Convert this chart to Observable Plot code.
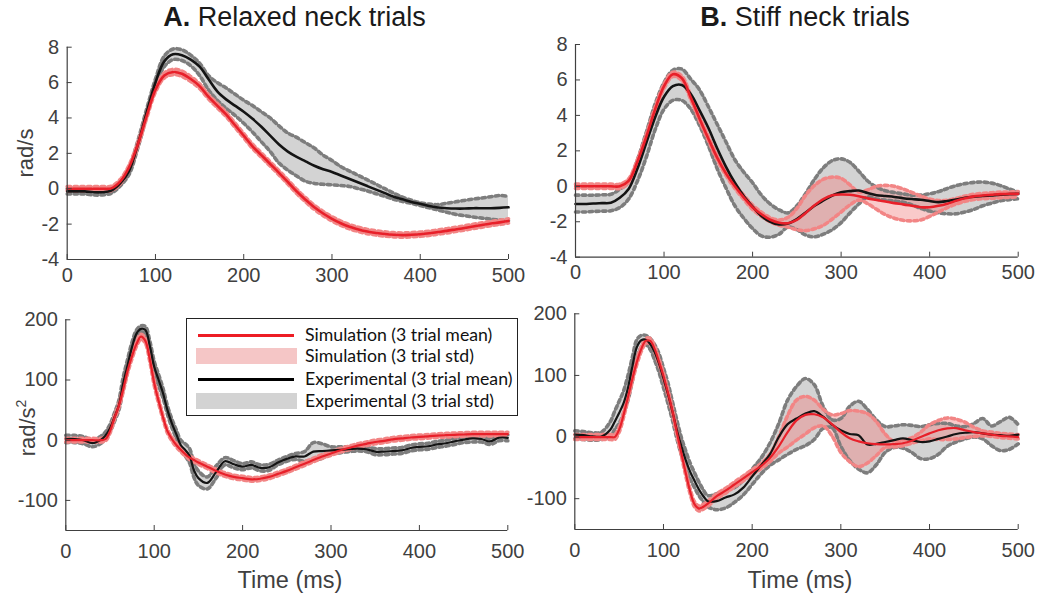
<!DOCTYPE html>
<html><head><meta charset="utf-8">
<script src="https://cdn.jsdelivr.net/npm/d3@7"></script>
<script src="https://cdn.jsdelivr.net/npm/@observablehq/plot@0.6"></script>
<style>
body{margin:0;background:#fff;}
#root{position:relative;width:1037px;height:599px;overflow:hidden;font-family:"Liberation Sans",Arial,sans-serif;color:#404040;background:#fff;}
.pnl{position:absolute;}
.pnl text{font-size:20px;}
.title{position:absolute;font-size:27px;color:#1a1a1a;white-space:nowrap;transform:translateX(-50%);line-height:1;}
.ylab{position:absolute;font-size:22px;color:#404040;white-space:nowrap;transform:translate(-50%,-50%) rotate(-90deg);line-height:1;}
.xlab{position:absolute;font-size:23.5px;color:#404040;white-space:nowrap;transform:translateX(-50%);line-height:1;}
#legend{position:absolute;left:186px;top:318px;width:330px;height:96px;border:1px solid #222;background:#fff;font-family:Lato,"Open Sans",sans-serif;font-size:17.7px;color:#111;}
#legend .row{position:absolute;left:0;height:22px;width:100%;}
#legend .sw{position:absolute;left:9px;width:101px;}
#legend .tx{position:absolute;left:118px;white-space:nowrap;line-height:22px;top:0;}
</style></head><body><div id="root"></div>
<script>
// ---------- time axes (ms) ----------
const tTop = [0,10,20,30,40,50,60,70,80,90,100,110,120,130,140,150,160,170,180,190,200,210,220,230,240,250,260,270,280,290,300,310,320,330,340,350,360,370,380,390,400,410,420,430,440,450,460,470,480,490,500];
const tBot = [0,10,20,30,40,45,50,55,60,65,70,75,80,85,90,95,100,105,110,115,120,125,130,135,140,145,150,160,170,180,190,200,210,220,230,240,250,260,270,280,290,300,310,320,330,340,350,360,370,380,390,400,410,420,430,440,450,460,470,480,490,500];

const xTicks = [0,100,200,300,400,500];
const yTicksVel = [-4,-2,0,2,4,6,8];
const yTicksAcc = [-100,0,100,200];

// ---------- A: relaxed neck, velocity (rad/s) ----------
const simA = [0,0,0,0,0,0.02,0.4,1.2,2.5,4.1,5.6,6.4,6.6,6.5,6.2,5.8,5.2,4.7,4.2,3.6,3.0,2.4,1.9,1.4,0.9,0.38,-0.15,-0.62,-1.05,-1.4,-1.7,-1.95,-2.15,-2.3,-2.42,-2.5,-2.56,-2.6,-2.62,-2.6,-2.57,-2.52,-2.45,-2.38,-2.3,-2.22,-2.13,-2.05,-1.97,-1.9,-1.82];
const simA_sd = [0.12,0.12,0.12,0.12,0.12,0.12,0.12,0.12,0.12,0.12,0.13,0.14,0.15,0.15,0.14,0.13,0.12,0.12,0.12,0.12,0.12,0.12,0.12,0.12,0.12,0.12,0.12,0.12,0.12,0.12,0.12,0.12,0.12,0.12,0.12,0.12,0.12,0.12,0.12,0.12,0.12,0.12,0.12,0.12,0.12,0.12,0.12,0.12,0.12,0.12,0.12];
const expA = [-0.15,-0.15,-0.15,-0.2,-0.2,-0.1,0.3,1.0,2.5,4.3,6.0,7.2,7.6,7.55,7.3,6.9,6.2,5.5,5.05,4.7,4.35,3.95,3.5,3.0,2.5,2.1,1.8,1.55,1.3,1.1,0.95,0.75,0.55,0.35,0.15,-0.05,-0.25,-0.45,-0.6,-0.75,-0.85,-0.98,-1.06,-1.1,-1.12,-1.12,-1.1,-1.1,-1.1,-1.08,-1.05];
const expA_lo = [-0.3,-0.3,-0.3,-0.35,-0.35,-0.25,0.15,0.8,2.3,4.1,5.8,6.9,7.3,7.25,6.95,6.4,5.6,5.0,4.55,4.15,3.7,3.2,2.65,2.1,1.45,1.05,0.72,0.42,0.3,0.25,0.22,0.18,0.13,0.0,-0.12,-0.28,-0.43,-0.6,-0.72,-0.83,-0.95,-1.08,-1.2,-1.33,-1.45,-1.52,-1.6,-1.66,-1.72,-1.77,-1.81];
const expA_hi = [0.0,0.0,0.0,-0.05,-0.05,0.05,0.45,1.2,2.7,4.5,6.2,7.5,7.9,7.85,7.55,7.1,6.4,6.0,5.7,5.35,5.0,4.7,4.35,4.0,3.55,3.15,2.9,2.6,2.3,1.9,1.6,1.25,1.0,0.75,0.5,0.25,0.0,-0.25,-0.48,-0.65,-0.8,-0.87,-0.9,-0.82,-0.74,-0.66,-0.58,-0.52,-0.45,-0.38,-0.43];

// ---------- B: stiff neck, velocity (rad/s) ----------
const simB = [0,0,0,0,0,0,0.3,1.4,2.8,4.35,5.65,6.32,6.1,5.03,3.83,2.7,1.62,0.72,0.0,-0.62,-1.18,-1.58,-1.89,-2.06,-2.08,-1.9,-1.5,-1.07,-0.72,-0.51,-0.46,-0.48,-0.56,-0.68,-0.77,-0.86,-0.95,-1.02,-1.1,-1.18,-1.18,-1.1,-0.98,-0.82,-0.68,-0.57,-0.52,-0.48,-0.44,-0.43,-0.43];
const simB_lo = [-0.12,-0.12,-0.12,-0.12,-0.12,-0.12,0.18,1.28,2.68,4.23,5.53,6.2,5.98,4.91,3.71,2.58,1.5,0.6,-0.12,-0.74,-1.3,-1.7,-2.01,-2.2,-2.3,-2.45,-2.5,-2.4,-2.2,-1.85,-1.45,-1.05,-0.78,-0.98,-1.3,-1.6,-1.8,-1.92,-1.95,-1.9,-1.7,-1.45,-1.2,-1.0,-0.85,-0.75,-0.7,-0.68,-0.65,-0.62,-0.6];
const simB_hi = [0.12,0.12,0.12,0.12,0.12,0.12,0.42,1.52,2.92,4.47,5.77,6.44,6.22,5.15,3.95,2.82,1.74,0.84,0.12,-0.5,-1.06,-1.46,-1.77,-1.9,-1.75,-1.25,-0.5,0.05,0.4,0.52,0.45,0.08,-0.32,-0.2,0.0,0.05,0.0,-0.15,-0.35,-0.55,-0.72,-0.8,-0.78,-0.68,-0.55,-0.45,-0.4,-0.36,-0.33,-0.32,-0.3];
const expB = [-1.0,-1.0,-0.97,-0.95,-0.93,-0.65,-0.15,1.0,2.45,3.9,5.05,5.65,5.72,5.22,4.3,3.3,2.15,1.1,0.2,-0.55,-1.15,-1.68,-2.0,-2.15,-2.1,-1.85,-1.48,-1.1,-0.8,-0.52,-0.33,-0.27,-0.24,-0.38,-0.5,-0.55,-0.6,-0.67,-0.72,-0.76,-0.83,-0.89,-0.83,-0.75,-0.65,-0.59,-0.55,-0.51,-0.47,-0.44,-0.43];
const expB_lo = [-1.45,-1.45,-1.42,-1.4,-1.38,-1.2,-0.72,0.3,1.65,3.2,4.35,4.85,4.85,4.37,3.45,2.3,1.0,-0.1,-1.1,-1.8,-2.38,-2.8,-2.87,-2.7,-2.3,-2.45,-2.75,-2.85,-2.7,-2.45,-2.05,-1.5,-1.0,-0.6,-0.72,-0.78,-0.83,-0.9,-1.05,-1.25,-1.4,-1.5,-1.55,-1.55,-1.45,-1.3,-1.1,-0.95,-0.82,-0.75,-0.7];
const expB_hi = [-0.5,-0.5,-0.5,-0.48,-0.45,-0.16,0.25,1.5,3.05,4.65,5.85,6.55,6.62,6.06,5.45,4.5,3.5,2.5,1.5,0.8,0.2,-0.5,-1.0,-1.33,-1.5,-1.1,-0.4,0.4,1.05,1.45,1.55,1.35,0.85,0.3,-0.05,-0.25,-0.35,-0.43,-0.5,-0.5,-0.42,-0.3,-0.12,0.04,0.15,0.22,0.24,0.18,0.04,-0.15,-0.33];

// ---------- C: relaxed neck, acceleration (rad/s^2) ----------
const simC = [0,0,0,0,0,2,15,37,57,85,116,140,160,172,165,135,95,65,38,15,2,-8,-16,-23,-29,-33,-37,-44,-51,-57,-61,-63,-65,-64,-61,-56,-51,-45,-39,-33,-27,-22,-17,-13,-9,-6,-3,-1,1.5,3,4.5,5.5,6.5,7.5,8.3,9,9.5,10,10,10,10,10];
const simC_sd = [3,3,3,3,3,3,3,3,3,4,4,4,4,4,4,4,4,4,3,3,3,3,3,3,3,3,3,3,3,3,3,3,3,3,3,3,3,3,3,3,3,3,3,3,3,3,3,3,3,3,3,3,3,3,3,3,3,3,3,3,3,3];
const expC = [2,2,0,-5,1,8,20,38,58,95,125,155,177,185,183,157,122,100,78,50,28,10,-8,-16,-26,-50,-63,-71,-53,-35,-40,-44,-41,-46,-45,-37,-31,-27,-27,-19,-18,-17,-16,-15,-14,-15,-19,-19,-18,-17,-13,-11,-10,-7,-5,-2,1,3,2,-2,4,4];
const expC_sd = [6,6,6,6,6,6,6,7,8,10,10,8,6,5,6,8,9,9,8,7,7,7,8,10,12,12,12,10,10,6,6,5,5,5,5,4,4,5,8,15,12,6,5,4,4,4,5,5,5,5,5,5,5,5,5,5,5,6,5,5,5,5];

// ---------- D: stiff neck, acceleration (rad/s^2) ----------
const simD = [0,0,0,0,0,0,12,36,65,95,122,143,156,156,143,122,99,72,43,8,-25,-58,-88,-109,-116,-113,-108,-96,-87,-77,-67,-57,-47,-34,-15,8,27,36,37,32,21,8,-2,-7,-10,-11.5,-12,-11.5,-10,-6,0,6,11,14,14.5,11,8,6,4,2,1,0];
const simD_lo = [-4,-4,-4,-4,-4,-4,8,32,61,91,118,139,152,152,139,118,95,68,39,4,-29,-62,-92,-113,-120,-117,-112,-100,-91,-81,-71,-61,-51,-40,-26,-16,-5,5,15,18,2,-25,-40,-48,-42,-30,-17,-16,-14,-10,-6,-3,-4,-4,-3,-1,1,2,1,-1,-2,-3];
const simD_hi = [4,4,4,4,4,4,16,40,69,99,126,147,160,160,147,126,103,76,47,12,-21,-54,-84,-105,-112,-109,-104,-92,-83,-73,-63,-53,-43,-28,0,35,60,66,60,45,36,38,43,42,38,25,5,-7,-5,-1,8,20,27,31,29,24,16,10,8,6,5,4];
const expD = [4,3,1,1,12,25,39,55,80,115,146,157,158,151,138,119,95,70,42,12,-14,-37,-56,-71,-85,-96,-104,-104,-98,-93,-82,-64,-46,-28,0,21,30,38,42,33,20,11,5,3,-12,-11,-8,-5,-2,-5,-8,-7,-3,1,5,7,8,6,4,3,2,4];
const expD_lo = [-3,-4,-5,-4,0,12,22,38,60,92,128,145,150,142,125,105,80,55,28,-2,-28,-50,-68,-82,-95,-105,-113,-118,-115,-106,-94,-77,-60,-46,-37,-28,-20,-14,-4,14,15,-15,-38,-52,-58,-45,-25,-17,-18,-25,-35,-35,-28,-15,-8,-3,0,-3,-14,-22,-20,-11];
const expD_hi = [10,9,7,8,25,42,58,75,100,130,158,165,165,160,150,135,112,88,58,28,0,-22,-42,-58,-73,-86,-95,-92,-86,-82,-70,-52,-34,-10,22,60,82,95,85,50,28,30,50,58,45,28,17,18,20,19,17,20,22,22,18,17,22,30,18,25,32,20];

// ---------- drawing ----------
const C = {
  simLine: "#e8202a", simFill: "#f08080", simDot: "#f28585",
  expLine: "#141414", expFill: "#d3d3d3", expDot: "#7d7d7d", axis: "#404040"
};

function panel(o) {
  const rows = o.t.map((x, i) => ({t: x, sm: o.sim[i], sl: o.simLo[i], sh: o.simHi[i], em: o.exp[i], el: o.expLo[i], eh: o.expHi[i]}));
  const curve = "catmull-rom";
  const dots = {strokeWidth: 3.6, strokeDasharray: "3.4,3.4", curve};
  return Plot.plot({
    width: o.width, height: o.height,
    marginLeft: o.ml, marginRight: o.mr, marginTop: o.mt, marginBottom: o.mb,
    x: {domain: [0, 500]},
    y: {domain: o.yDomain},
    style: {fontFamily: '"Liberation Sans", Arial, sans-serif', fontSize: "20px", color: C.axis, background: "transparent", overflow: "visible"},
    marks: [
      Plot.areaY(rows, {x: "t", y1: "el", y2: "eh", fill: C.expFill, curve}),
      Plot.areaY(rows, {x: "t", y1: "sl", y2: "sh", fill: C.simFill, fillOpacity: 0.42, curve}),
      Plot.lineY(rows, {x: "t", y: "eh", stroke: C.expDot, ...dots}),
      Plot.lineY(rows, {x: "t", y: "el", stroke: C.expDot, ...dots}),
      Plot.lineY(rows, {x: "t", y: "sh", stroke: C.simDot, ...dots}),
      Plot.lineY(rows, {x: "t", y: "sl", stroke: C.simDot, ...dots}),
      Plot.lineY(rows, {x: "t", y: "em", stroke: C.expLine, strokeWidth: o.lw, curve}),
      Plot.lineY(rows, {x: "t", y: "sm", stroke: C.simLine, strokeWidth: o.lw, curve}),
      Plot.ruleX([0], {stroke: C.axis, strokeWidth: 1.2}),
      Plot.ruleY([o.yDomain[0]], {stroke: C.axis, strokeWidth: 1.2}),
      Plot.axisX({ticks: xTicks, tickSize: -5, tickPadding: 14, tickFormat: d => String(d), stroke: C.axis, label: null}),
      Plot.text(xTicks, {x: d => d, y: o.yDomain[0], text: d => String(d), dy: o.xdy, lineAnchor: "top", fill: C.axis, fontSize: 20}),
      Plot.axisY({ticks: o.yTicks, tickSize: -5, tickPadding: 13, tickFormat: d => String(d), stroke: C.axis, fill: C.axis, label: null})
    ]
  });
}

const root = document.getElementById("root");
function place(node, left, top) {
  node.classList.add("pnl");
  node.style.left = left + "px";
  node.style.top = top + "px";
  root.appendChild(node);
  // hide the built-in x tick labels; the text mark above draws them with explicit placement
  node.querySelectorAll('g[aria-label="x-axis tick label"]').forEach(g => g.remove());
}

place(panel({t: tTop, sim: simA, simLo: simA.map((v, i) => v - simA_sd[i]), simHi: simA.map((v, i) => v + simA_sd[i]),
  exp: expA, expLo: expA_lo, expHi: expA_hi, yDomain: [-4, 8], yTicks: yTicksVel, lw: 2.6, xdy: 8,
  width: 520, height: 290, ml: 66.7, mr: 12, mt: 46.7, mb: 31}), 0, 0);
place(panel({t: tTop, sim: simB, simLo: simB_lo, simHi: simB_hi,
  exp: expB, expLo: expB_lo, expHi: expB_hi, yDomain: [-4, 8], yTicks: yTicksVel, lw: 2.6, xdy: 8,
  width: 517, height: 290, ml: 55, mr: 19.3, mt: 44, mb: 33.3}), 520, 0);
place(panel({t: tBot, sim: simC, simLo: simC.map((v, i) => v - simC_sd[i]), simHi: simC.map((v, i) => v + simC_sd[i]),
  exp: expC, expLo: expC.map((v, i) => v - expC_sd[i]), expHi: expC.map((v, i) => v + expC_sd[i]),
  yDomain: [-150, 200], yTicks: yTicksAcc, lw: 2.2, xdy: 13,
  width: 520, height: 309, ml: 65.3, mr: 12.7, mt: 29.3, mb: 69}), 0, 290);
place(panel({t: tBot, sim: simD, simLo: simD_lo, simHi: simD_hi,
  exp: expD, expLo: expD_lo, expHi: expD_hi, yDomain: [-150, 200], yTicks: yTicksAcc, lw: 2.2, xdy: 13,
  width: 517, height: 309, ml: 54.3, mr: 19.3, mt: 23.3, mb: 70}), 520, 290);

// ---------- texts ----------
function addDiv(cls, html, left, top) {
  const d = document.createElement("div");
  d.className = cls; d.innerHTML = html;
  d.style.left = left + "px"; d.style.top = top + "px";
  root.appendChild(d);
  return d;
}
addDiv("title", "<b>A.</b> Relaxed neck trials", 294.5, 4);
addDiv("title", "<b>B.</b> Stiff neck trials", 805, 4);
addDiv("ylab", "rad/s", 26, 153);
addDiv("ylab", "rad/s<sup style='font-size:14px;vertical-align:9px'>2</sup>", 26, 428);
addDiv("xlab", "Time (ms)", 290, 569);
addDiv("xlab", "Time (ms)", 800, 569);

// legend
const legendItems = [
  {label: "Simulation (3 trial mean)", kind: "line", color: "#ed1c24"},
  {label: "Simulation (3 trial std)", kind: "box", color: "#f5c6c6"},
  {label: "Experimental (3 trial mean)", kind: "line", color: "#000000"},
  {label: "Experimental (3 trial std)", kind: "box", color: "#d3d3d3"}
];
const lg = document.createElement("div"); lg.id = "legend"; root.appendChild(lg);
const rowTops = [5, 26, 49, 71];
legendItems.forEach((it, i) => {
  const r = document.createElement("div"); r.className = "row"; r.style.top = rowTops[i] + "px";
  const sw = document.createElement("div"); sw.className = "sw";
  if (it.kind === "line") { sw.style.top = "9.5px"; sw.style.height = "3px"; sw.style.left = "11px"; sw.style.width = "96px"; }
  else { sw.style.top = "3px"; sw.style.height = "16px"; }
  sw.style.background = it.color;
  const tx = document.createElement("div"); tx.className = "tx"; tx.textContent = it.label;
  r.appendChild(sw); r.appendChild(tx); lg.appendChild(r);
});
</script>
</body></html>
